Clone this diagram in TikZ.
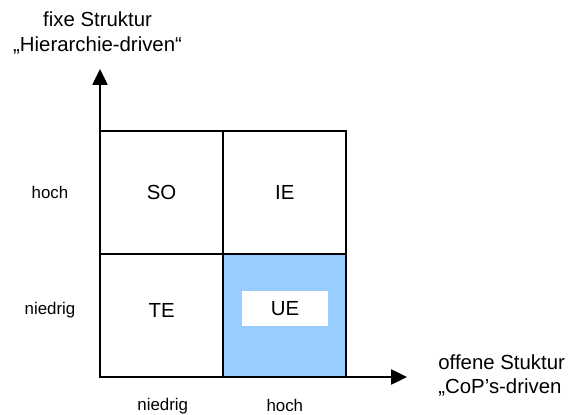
\documentclass[tikz,border=0pt]{standalone}
\usepackage{fontspec}
\setmainfont{Liberation Sans}
\usetikzlibrary{arrows.meta}
\definecolor{hellblau}{HTML}{99CCFF}

\begin{document}
\begin{tikzpicture}[>={Triangle[length=0.4cm, width=0.38cm]}, line width=1.3pt,
  cell/.style={draw, shape=rectangle, minimum size=3.08cm, inner sep=0pt},
  feld/.style={font=\fontsize{14.5}{17}\selectfont},
  achse/.style={font=\fontsize{14.5}{17.5}\selectfont, align=center},
  stufe/.style={font=\fontsize{12}{14}\selectfont}]
\useasboundingbox (-2.5, -0.95) rectangle (11.8, 9.425);

% Cells of the matrix
\node (c1) [cell] at (1.54, 4.62) {};
\node (c2) [cell] at (4.62, 4.62) {};
\node (c3) [cell] at (1.54, 1.54) {};
\node (c4) [cell, fill=hellblau] at (4.62, 1.54) {};
\node (SO) [feld] at (1.54, 4.62) {SO};
\node (IE) [feld] at (4.62, 4.62) {IE};
\node (TE) [feld] at (1.54, 1.66) {TE};
\node (UE) [feld, fill=white, minimum width=2.15cm, minimum height=0.875cm] at (4.625, 1.71) {UE};

% Axes
\coordinate (O) at (0, 0);
\coordinate (Y) at (0, 7.7);
\coordinate (X) at (7.675, 0);
\draw[->] (O) -- (Y);
\draw[->] (O) -- (X);
\node (fix) [achse] at (-0.06, 8.6) {fixe Struktur\\„Hierarchie-driven“};
\node (offen) [achse, anchor=west, align=left] at (8.32, 0.04) {offene Stuktur\\„CoP’s-driven};

% Levels
\node (yhoch) [stufe] at (-1.25, 4.62) {hoch};
\node (yniedrig) [stufe] at (-1.25, 1.68) {niedrig};
\node (xniedrig) [stufe] at (1.57, -0.72) {niedrig};
\node (xhoch) [stufe] at (4.62, -0.72) {hoch};

\end{tikzpicture}
\end{document}
